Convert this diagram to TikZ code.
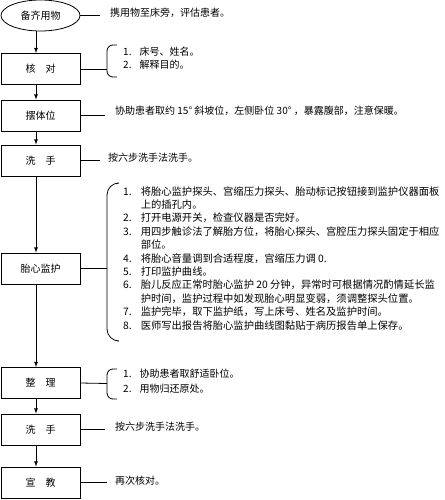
\documentclass[tikz,border=0pt]{standalone}
\usepackage{fontspec}
\setmainfont{Noto Sans CJK SC}
\usetikzlibrary{shapes.geometric}

\begin{document}
\begin{tikzpicture}
[x=1pt, y=-1pt,
stepbox/.style={rectangle, draw, line width=0.8pt, minimum width=79pt, minimum height=31pt, inner sep=0pt, font=\fontsize{10}{12}\selectfont},
startnode/.style={ellipse, draw, line width=0.8pt, minimum width=79pt, minimum height=31pt, inner sep=0pt, font=\fontsize{10}{12}\selectfont},
notenode/.style={anchor=west, inner sep=0pt, font=\fontsize{10}{12}\selectfont},
listnode/.style={anchor=base west, inner sep=0pt},
bracket/.style={line width=0.8pt, rounded corners=6pt},
]
\useasboundingbox (0,0) rectangle (444,500);
%steps
\node[startnode](bqyw) at (40.5,15.5) {备齐用物};
\node[stepbox](hd) at (40.5,69) {核\quad 对};
\node[stepbox](btw) at (40.5,115.5) {摆体位};
\node[stepbox](xs1) at (40.5,160.5) {洗\quad 手};
\node[stepbox](txjh) at (40.5,268.5) {胎心监护};
\node[stepbox](zl) at (40.5,383) {整\quad 理};
\node[stepbox](xs2) at (40.5,429.5) {洗\quad 手};
\node[stepbox](xj) at (40.5,482.5) {宣\quad 教};
%arrows
\draw[thick, -latex] ([xshift=-4.5pt]bqyw.south) -- ([xshift=-4.5pt]hd.north);
\draw[thick, -latex] ([xshift=-4.5pt]hd.south) -- ([xshift=-4.5pt]btw.north);
\draw[thick, -latex] ([xshift=-4.5pt]btw.south) -- ([xshift=-4.5pt]xs1.north);
\draw[thick, -latex] ([xshift=-4.5pt]xs1.south) -- ([xshift=-4.5pt]txjh.north);
\draw[thick, -latex] ([xshift=-4.5pt]txjh.south) -- ([xshift=-4.5pt]zl.north);
\draw[thick, -latex] ([xshift=-4.5pt]zl.south) -- ([xshift=-4.5pt]xs2.north);
\draw[thick, -latex] ([xshift=-4.5pt]xs2.south) -- ([xshift=-4.5pt]xj.north);
% notes
\coordinate (e1) at (100,15.5);
\node[notenode](n1) at (110,13) {携用物至床旁，评估患者。};
\draw[line width=0.8pt] (bqyw.east) -- (e1);
\coordinate (e2) at (107,69);
\draw[line width=0.8pt] (hd.east) -- (e2);
\draw[bracket] (117,45) -- (107,45) -- (107,77) -- (117,77);
\node[listnode, font=\fontsize{10}{13}\selectfont](n2) at (123,56) {\begin{tabular}[t]{@{}l@{\hspace{8pt}}l@{}}
1. & 床号、姓名。\\
2. & 解释目的。
\end{tabular}};
\coordinate (e3) at (105,115.5);
\draw[line width=0.8pt] (btw.east) -- (e3);
\node[notenode](n3) at (115,111) {协助患者取约 15° 斜坡位，左侧卧位 30° ，暴露腹部，注意保暖。};
\coordinate (e4) at (100,160.5);
\draw[line width=0.8pt] (xs1.east) -- (e4);
\node[notenode](n4) at (108,158) {按六步洗手法洗手。};
% monitoring
\coordinate (e5) at (107,268.5);
\draw[line width=0.8pt] (txjh.east) -- (e5);
\draw[bracket, rounded corners=12pt] (117,183) -- (107,183) -- (107,341) -- (117,341);
\node[listnode, font=\fontsize{10.3}{13.4}\selectfont](n5) at (123,195) {\begin{tabular}[t]{@{}l@{\hspace{9pt}}l@{}}
1. & 将胎心监护探头、宫缩压力探头、胎动标记按钮接到监护仪器面板\\
   & 上的插孔内。\\
2. & 打开电源开关，检查仪器是否完好。\\
3. & 用四步触诊法了解胎方位，将胎心探头、宫腔压力探头固定于相应\\
   & 部位。\\
4. & 将胎心音量调到合适程度，宫缩压力调 0.\\
5. & 打印监护曲线。\\
6. & 胎儿反应正常时胎心监护 20 分钟，异常时可根据情况酌情延长监\\
   & 护时间，监护过程中如发现胎心明显变弱，须调整探头位置。\\
7. & 监护完毕，取下监护纸，写上床号、姓名及监护时间。\\
8. & 医师写出报告将胎心监护曲线图黏贴于病历报告单上保存。
\end{tabular}};
% tidy up
\coordinate (e6) at (107,383.5);
\draw[line width=0.8pt] (zl.east) -- (e6);
\draw[bracket] (117,369) -- (107,369) -- (107,399) -- (117,399);
\node[listnode, font=\fontsize{10}{15}\selectfont](n6) at (123,377) {\begin{tabular}[t]{@{}l@{\hspace{8pt}}l@{}}
1. & 协助患者取舒适卧位。\\
2. & 用物归还原处。
\end{tabular}};
\coordinate (e7) at (105,429.5);
\draw[line width=0.8pt] (xs2.east) -- (e7);
\node[notenode](n7) at (115,427) {按六步洗手法洗手。};
\coordinate (e8) at (107,482.5);
\draw[line width=0.8pt] (xj.east) -- (e8);
\node[notenode](n8) at (115,481) {再次核对。};
\end{tikzpicture}
\end{document}
